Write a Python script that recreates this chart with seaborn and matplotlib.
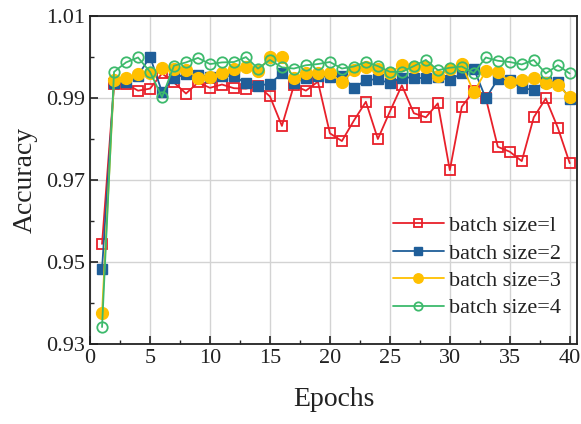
import numpy as np
import pandas as pd
import matplotlib
matplotlib.use("Agg")
import matplotlib.pyplot as plt
import seaborn as sns
from matplotlib.ticker import MultipleLocator

epochs = list(range(1, 41))

bs1 = [0.9544, 0.9934, 0.9935, 0.9918, 0.9923, 0.9960, 0.9938, 0.9911, 0.9938, 0.9925,
       0.9933, 0.9924, 0.9923, 0.9930, 0.9904, 0.9832, 0.9931, 0.9918, 0.9940, 0.9814,
       0.9795, 0.9845, 0.9891, 0.9800, 0.9867, 0.9931, 0.9863, 0.9853, 0.9887, 0.9724,
       0.9879, 0.9917, 0.9900, 0.9781, 0.9769, 0.9746, 0.9853, 0.9899, 0.9828, 0.9741]
bs2 = [0.9483, 0.9936, 0.9940, 0.9955, 1.0001, 0.9915, 0.9949, 0.9958, 0.9956, 0.9952,
       0.9954, 0.9954, 0.9936, 0.9930, 0.9935, 0.9960, 0.9936, 0.9950, 0.9954, 0.9952,
       0.9955, 0.9924, 0.9944, 0.9946, 0.9936, 0.9950, 0.9950, 0.9948, 0.9952, 0.9944,
       0.9960, 0.9972, 0.9899, 0.9946, 0.9943, 0.9924, 0.9920, 0.9940, 0.9940, 0.9898]
bs3 = [0.9376, 0.9945, 0.9948, 0.9958, 0.9962, 0.9974, 0.9972, 0.9968, 0.9950, 0.9951,
       0.9962, 0.9970, 0.9977, 0.9965, 1.0000, 1.0000, 0.9948, 0.9960, 0.9960, 0.9960,
       0.9938, 0.9968, 0.9975, 0.9970, 0.9962, 0.9980, 0.9976, 0.9976, 0.9955, 0.9970,
       0.9982, 0.9914, 0.9966, 0.9964, 0.9939, 0.9943, 0.9950, 0.9936, 0.9932, 0.9903]
bs4 = [0.9341, 0.9964, 0.9987, 0.9999, 0.9964, 0.9902, 0.9979, 0.9987, 0.9998, 0.9983,
       0.9987, 0.9988, 1.0000, 0.9972, 0.9993, 0.9975, 0.9972, 0.9980, 0.9983, 0.9988,
       0.9972, 0.9977, 0.9988, 0.9978, 0.9964, 0.9964, 0.9978, 0.9993, 0.9968, 0.9974,
       0.9977, 0.9961, 0.9999, 0.9991, 0.9988, 0.9982, 0.9993, 0.9960, 0.9980, 0.9960]

labels = ["batch size=l", "batch size=2", "batch size=3", "batch size=4"]
x_ticks = [0, 5, 10, 15, 20, 25, 30, 35, 40]
y_ticks = [0.93, 0.95, 0.97, 0.99, 1.01]

sns.set_style("ticks")
plt.rcParams["font.family"] = ["Liberation Serif", "DejaVu Serif"]
plt.rcParams["mathtext.fontset"] = "stix"

fig = plt.figure(figsize=(5.81, 4.24), dpi=100)
ax = fig.add_axes([0.155, 0.189, 0.838, 0.773])

styles = [
    dict(color="#E8202A", marker="s", markersize=6.5, markerfacecolor="none",
         markeredgecolor="#E8202A", markeredgewidth=1.3),
    dict(color="#1F5E99", marker="s", markersize=7, markerfacecolor="#1F5E99",
         markeredgecolor="#1F5E99", markeredgewidth=1.0),
    dict(color="#FFC000", marker="o", markersize=8.5, markerfacecolor="#FFC000",
         markeredgecolor="#FFC000", markeredgewidth=1.0),
    dict(color="#3DBA6C", marker="o", markersize=7.5, markerfacecolor="none",
         markeredgecolor="#3DBA6C", markeredgewidth=1.3),
]

for vals, lab, st in zip([bs1, bs2, bs3, bs4], labels, styles):
    df = pd.DataFrame({"Epochs": epochs, "Accuracy": vals})
    sns.lineplot(data=df, x="Epochs", y="Accuracy", ax=ax, label=lab,
                 linewidth=1.3, **st)

ax.set_xlim(0, 40.6)
ax.set_ylim(0.93, 1.01)
ax.set_xticks(x_ticks)
ax.set_yticks(y_ticks)
ax.set_yticklabels([f"{v:.2f}" for v in y_ticks])
ax.xaxis.set_minor_locator(MultipleLocator(2.5))
ax.yaxis.set_minor_locator(MultipleLocator(0.01))
ax.grid(True, which="major", color="#D3D3D3", linewidth=1.0)
ax.set_axisbelow(True)
ax.tick_params(axis="both", which="major", direction="in", length=6, width=1.2,
               labelsize=16, colors="#222222", top=False, right=False)
ax.tick_params(axis="both", which="minor", direction="in", length=3, width=1.0,
               top=False, right=False)
for sp in ax.spines.values():
    sp.set_linewidth(1.3)
    sp.set_color("#222222")
    sp.set_visible(True)

ax.set_xlabel("Epochs", fontsize=20, color="#222222", labelpad=14)
ax.set_ylabel("Accuracy", fontsize=20, color="#222222", labelpad=6)

leg = ax.legend(loc="lower right", frameon=False, fontsize=16, handlelength=2.3,
                handletextpad=0.25, labelspacing=0.31, borderaxespad=0.3,
                markerscale=0.8, bbox_to_anchor=(1.0, 0.03))
for t in leg.get_texts():
    t.set_color("#222222")

fig.savefig("out.png", dpi=100)
